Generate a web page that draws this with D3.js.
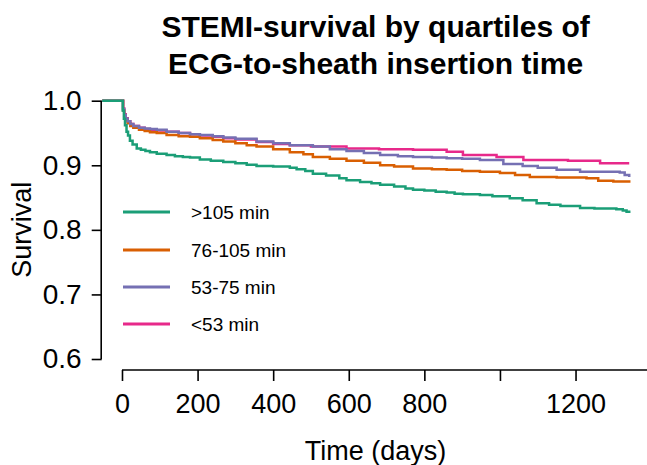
<!DOCTYPE html>
<html>
<head>
<meta charset="utf-8">
<script src="https://cdn.jsdelivr.net/npm/d3@7"></script>
<style>
  html, body { margin: 0; padding: 0; background: #fff; }
  svg { display: block; font-family: "Liberation Sans", Arial, sans-serif; }
</style>
</head>
<body>
<svg id="chart" width="647" height="465"></svg>
<script>
// Kaplan-Meier survival estimates by quartile of ECG-to-sheath time
const groups = [">105 min", "76-105 min", "53-75 min", "<53 min"];
const groupColors = ["#1B9E77", "#D95F02", "#7570B3", "#E7298A"];

const timeLong = [0, 2, 5, 8, 12, 16, 21, 28, 39, 50, 62, 74, 92, 118, 140, 161, 180, 206, 235, 268, 300, 330, 356, 400, 444, 462, 485, 505, 540, 575, 594, 630, 660, 683, 720, 750, 770, 800, 830, 859, 880, 902, 947, 980, 1026, 1060, 1097, 1130, 1160, 1212, 1250, 1308, 1325, 1335, 1342];
const survLong = [1, 0.985, 0.972, 0.962, 0.952, 0.946, 0.938, 0.932, 0.926, 0.924, 0.922, 0.920, 0.918, 0.916, 0.914, 0.913, 0.912, 0.909, 0.907, 0.905, 0.903, 0.901, 0.899, 0.898, 0.896, 0.894, 0.891, 0.887, 0.884, 0.880, 0.877, 0.874, 0.872, 0.870, 0.867, 0.864, 0.862, 0.861, 0.859, 0.858, 0.856, 0.855, 0.854, 0.852, 0.849, 0.846, 0.841, 0.839, 0.837, 0.834, 0.833, 0.832, 0.830, 0.828, 0.826];

const timeQ3 = [0, 3, 6, 10, 15, 22, 30, 45, 60, 74, 92, 118, 150, 180, 206, 240, 268, 300, 330, 356, 400, 444, 480, 505, 550, 594, 640, 683, 720, 770, 820, 859, 900, 947, 1000, 1040, 1079, 1150, 1229, 1260, 1300, 1342];
const survQ3 = [1, 0.985, 0.976, 0.970, 0.965, 0.961, 0.958, 0.955, 0.953, 0.951, 0.950, 0.947, 0.945, 0.944, 0.942, 0.939, 0.937, 0.934, 0.931, 0.929, 0.925, 0.920, 0.917, 0.913, 0.910, 0.907, 0.904, 0.900, 0.898, 0.895, 0.894, 0.893, 0.891, 0.890, 0.888, 0.885, 0.882, 0.881, 0.880, 0.876, 0.875, 0.873];

const timeQ2 = [0, 3, 6, 10, 15, 22, 30, 45, 60, 74, 92, 118, 150, 180, 206, 240, 268, 300, 356, 400, 444, 505, 550, 594, 640, 683, 730, 770, 820, 859, 900, 947, 1009, 1060, 1100, 1150, 1212, 1317, 1330, 1342];
const survQ2 = [1, 0.987, 0.978, 0.972, 0.968, 0.964, 0.961, 0.958, 0.957, 0.956, 0.955, 0.952, 0.950, 0.948, 0.947, 0.945, 0.943, 0.941, 0.937, 0.934, 0.931, 0.929, 0.925, 0.922, 0.919, 0.916, 0.914, 0.913, 0.912, 0.911, 0.910, 0.908, 0.902, 0.899, 0.896, 0.893, 0.890, 0.889, 0.885, 0.882];

const timeShort = [0, 3, 6, 10, 15, 22, 30, 45, 60, 74, 92, 118, 150, 180, 206, 240, 268, 300, 356, 400, 444, 500, 594, 680, 770, 859, 902, 991, 1062, 1180, 1265, 1342];
const survShort = [1, 0.988, 0.979, 0.973, 0.968, 0.964, 0.961, 0.958, 0.956, 0.955, 0.954, 0.952, 0.950, 0.948, 0.946, 0.944, 0.942, 0.940, 0.936, 0.933, 0.931, 0.929, 0.926, 0.925, 0.924, 0.921, 0.916, 0.913, 0.908, 0.907, 0.903, 0.903];

const xTicks = [0, 200, 400, 600, 800, 1000, 1200, 1400];
const xTickLabels = ["0", "200", "400", "600", "800", "", "1200", ""];
const yTicks = [0.6, 0.7, 0.8, 0.9, 1.0];

const series = [
  { name: groups[0], color: groupColors[0], t: timeLong, s: survLong },
  { name: groups[1], color: groupColors[1], t: timeQ3, s: survQ3 },
  { name: groups[2], color: groupColors[2], t: timeQ2, s: survQ2 },
  { name: groups[3], color: groupColors[3], t: timeShort, s: survShort }
];

const svg = d3.select("#chart");
const font = '"Liberation Sans", Arial, sans-serif';

// plot region with 4% padding on the time range, as base R does
const tMax = 1342;
const pad = tMax * 0.04;
const x = d3.scaleLinear().domain([-pad, tMax + pad]).range([101.7, 649.5]);
const y = d3.scaleLinear().domain([0.6, 1.0]).range([359, 100.7]);
const midX = (x.range()[0] + x.range()[1]) / 2;

// title
const title = svg.append("text")
  .attr("text-anchor", "middle")
  .style("font-family", font).style("font-weight", "bold").style("font-size", "30px");
title.append("tspan").attr("x", midX).attr("y", 37).text("STEMI-survival by quartiles of");
title.append("tspan").attr("x", midX).attr("y", 74).text("ECG-to-sheath insertion time");

// y axis
const yAxis = d3.axisLeft(y).tickValues(yTicks).tickFormat(d3.format(".1f")).tickSize(10).tickPadding(10);
const gy = svg.append("g").attr("transform", `translate(${x.range()[0]},0)`).call(yAxis);
gy.select(".domain").attr("d", `M-0.5,${y(1.0)}V${y(0.6)}`);
gy.selectAll(".domain, .tick line").attr("stroke", "#000").attr("stroke-width", 1.6);
gy.selectAll(".tick text").style("font-family", font).style("font-size", "28px").attr("fill", "#000");

// x axis
const axisY = 370;
const xAxis = d3.axisBottom(x).tickValues(xTicks).tickFormat((d, i) => xTickLabels[i]).tickSize(11).tickPadding(9);
const gx = svg.append("g").attr("transform", `translate(0,${axisY})`).call(xAxis);
gx.select(".domain").attr("d", `M${x(0)},0H${x(1400)}`);
gx.selectAll(".domain, .tick line").attr("stroke", "#000").attr("stroke-width", 1.6);
gx.selectAll(".tick text").style("font-family", font).style("font-size", "27px").attr("fill", "#000").attr("dy", "0.85em");

// axis titles
svg.append("text")
  .attr("x", midX).attr("y", 460)
  .attr("text-anchor", "middle")
  .style("font-family", font).style("font-size", "27px")
  .text("Time (days)");
svg.append("text")
  .attr("transform", `translate(31,${(y(1.0) + y(0.6)) / 2}) rotate(-90)`)
  .attr("text-anchor", "middle")
  .style("font-family", font).style("font-size", "27px")
  .text("Survival");

// survival step curves; each starts flat at 1.0 from the left edge of the plot region
const line = d3.line()
  .x(d => x(d[0]))
  .y(d => y(d[1]))
  .curve(d3.curveStepAfter);

const drawOrder = [3, 1, 2, 0];
drawOrder.forEach(i => {
  const sr = series[i];
  const pts = [[x.domain()[0] + 1.5, 1]].concat(sr.t.map((t, j) => [t, sr.s[j]]));
  svg.append("path")
    .datum(pts)
    .attr("fill", "none")
    .attr("stroke", sr.color)
    .attr("stroke-width", 2.5)
    .attr("d", line);
});

// legend
const legendY = [212, 250, 287, 324];
const legend = svg.append("g");
series.forEach((sr, i) => {
  legend.append("line")
    .attr("x1", 123).attr("x2", 170)
    .attr("y1", legendY[i]).attr("y2", legendY[i])
    .attr("stroke", sr.color).attr("stroke-width", 3);
  legend.append("text")
    .attr("x", 191).attr("y", legendY[i]).attr("dy", "0.35em")
    .style("font-family", font).style("font-size", "19px")
    .text(sr.name);
});
</script>
</body>
</html>
